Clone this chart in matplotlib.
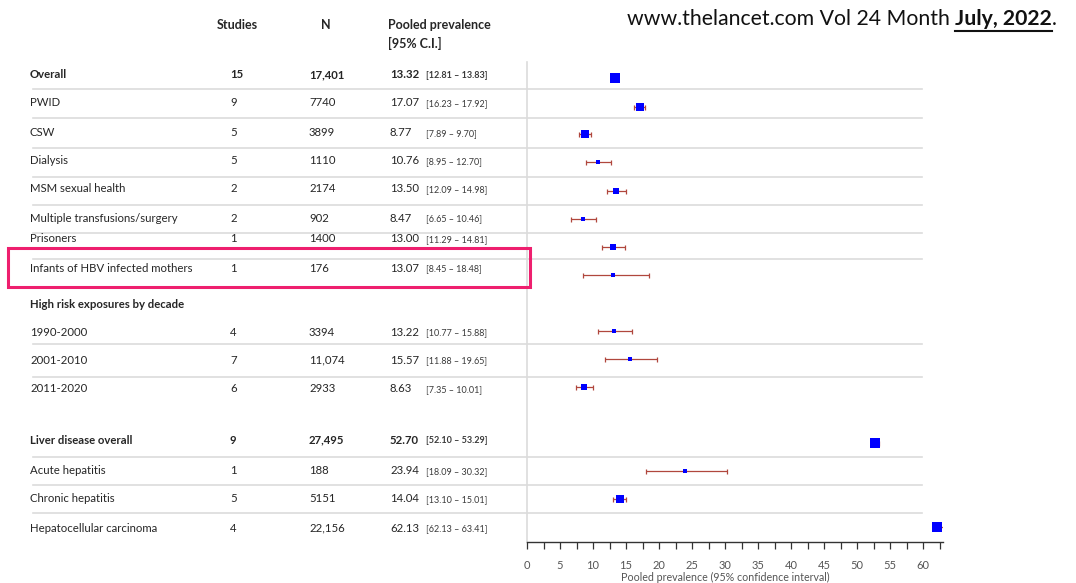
import matplotlib.pyplot as plt
import numpy as np
from matplotlib.patches import Rectangle

plt.rcParams['font.family'] = ['Lato', 'DejaVu Sans']

# prevalence of HBV by group
labels = ["Overall", "PWID", "CSW", "Dialysis", "MSM sexual health",
          "Multiple transfusions/surgery", "Prisoners", "Infants of HBV infected mothers",
          "1990-2000", "2001-2010", "2011-2020",
          "Liver disease overall", "Acute hepatitis", "Chronic hepatitis",
          "Hepatocellular carcinoma"]
studies = [15, 9, 5, 5, 2, 2, 1, 1, 4, 7, 6, 9, 1, 5, 4]
n_total = [17401, 7740, 3899, 1110, 2174, 902, 1400, 176, 3394, 11074, 2933,
           27495, 188, 5151, 22156]
prev = [13.32, 17.07, 8.77, 10.76, 13.50, 8.47, 13.00, 13.07, 13.22, 15.57, 8.63,
        52.70, 23.94, 14.04, 62.13]
ci_lo = [12.81, 16.23, 7.89, 8.95, 12.09, 6.65, 11.29, 8.45, 10.77, 11.88, 7.35,
         52.10, 18.09, 13.10, 62.13]
ci_hi = [13.83, 17.92, 9.70, 12.70, 14.98, 10.46, 14.81, 18.48, 15.88, 19.65, 10.01,
         53.29, 30.32, 15.01, 63.41]
bold_rows = ["Overall", "Liver disease overall"]
section_title = "High risk exposures by decade"
x_ticks = [0, 5, 10, 15, 20, 25, 30, 35, 40, 45, 50, 55, 60]

# layout (pixels from top)
W, H = 1076, 583
text_y = [75, 103, 133, 161, 189, 218, 239, 268, 332, 360, 389, 440, 471, 499, 528]
mark_y = [78, 107, 134, 162, 191, 219, 247, 275, 331, 359, 387, 443, 471, 499, 527]
sep_y = [89, 118, 148, 177, 205, 233, 259, 344, 377, 457, 485, 513]
section_y = 304
axis_y = 542
x0_px, px_per_unit = 527, 6.6

fig = plt.figure(figsize=(W / 100, H / 100), dpi=100)
tab = fig.add_axes([0, 0, 1, 1])
tab.set_xlim(0, W)
tab.set_ylim(H, 0)
tab.axis('off')

txt = '#262626'
grid = '#dcdcdc'
fs = 8.2

# separator lines and the divider before the plot
for y in sep_y:
    tab.plot([33, 922], [y, y], color=grid, lw=1.2, zorder=1)
tab.plot([x0_px, x0_px], [62, axis_y], color=grid, lw=1.2, zorder=1)

# column headers
tab.text(237, 25, "Studies", ha='center', va='center', fontsize=9, weight='bold', color=txt)
tab.text(326, 25, "N", ha='center', va='center', fontsize=9, weight='bold', color=txt)
tab.text(388, 25, "Pooled prevalence", ha='left', va='center', fontsize=9, weight='bold', color=txt)
tab.text(388, 43, "[95% C.I.]", ha='left', va='center', fontsize=9, weight='bold', color=txt)

for i, lab in enumerate(labels):
    y = text_y[i]
    w = 'bold' if lab in bold_rows else 'normal'
    n_str = f"{n_total[i]:,}" if n_total[i] >= 10000 else str(n_total[i])
    tab.text(30, y, lab, ha='left', va='center', fontsize=fs, weight=w, color=txt)
    tab.text(230, y, str(studies[i]), ha='left', va='center', fontsize=fs, weight=w, color=txt)
    tab.text(309, y, n_str, ha='left', va='center', fontsize=fs, weight=w, color=txt)
    tab.text(390, y, f"{prev[i]:.2f}", ha='left', va='center', fontsize=fs, weight=w, color=txt)
    tab.text(426, y + 0.5, f"[{ci_lo[i]:.2f} \u2013 {ci_hi[i]:.2f}]", ha='left', va='center',
             fontsize=6.5, weight=w, color='#3a3a3a')

tab.text(30, section_y, section_title, ha='left', va='center', fontsize=fs,
         weight='bold', color=txt)

# highlight box
tab.add_patch(Rectangle((8, 248), 522, 39, fill=False, ec='#ee1f6e', lw=2.2, zorder=5))

# journal reference, top right
r = fig.canvas.get_renderer()
t1 = tab.text(627, 19, "www.thelancet.com Vol 24 Month ", ha='left', va='center',
              fontsize=15.3, color='#111111')
bb = t1.get_window_extent(r)
t2 = fig.text(bb.x1 / W, 1 - 19 / H, "July, 2022", ha='left', va='center',
              fontsize=15.3, weight='bold', color='#111111')
bb2 = t2.get_window_extent(r)
fig.text(bb2.x1 / W, 1 - 19 / H, ".", ha='left', va='center', fontsize=15.3, color='#111111')
tab.plot([bb2.x0, bb2.x1], [31, 31], color='#111111', lw=1.5)

# forest plot
xmax = 63
fx = fig.add_axes([x0_px / W, 0, xmax * px_per_unit / W, 1])
fx.set_xlim(0, xmax)
fx.set_ylim(H, 0)
fx.patch.set_alpha(0)
for s in ['top', 'left', 'right']:
    fx.spines[s].set_visible(False)
fx.spines['bottom'].set_position(('data', axis_y))
fx.spines['bottom'].set_color('#333333')
fx.spines['bottom'].set_linewidth(1.0)
fx.set_yticks([])
fx.set_xticks(x_ticks)
fx.set_xticks(np.arange(2.5, 63, 5), minor=True)
fx.tick_params(axis='x', which='both', direction='out', length=5, width=0.9,
               color='#333333', labelsize=8, labelcolor='#555555', pad=8)

p = np.array(prev)
lo = np.array(ci_lo)
hi = np.array(ci_hi)
fx.errorbar(p, mark_y, xerr=[p - lo, hi - p], fmt='none', ecolor='#b0473d',
            elinewidth=0.9, capsize=1.8, capthick=0.9, zorder=3)
# marker size grows with precision of the estimate
size_px = 2.8 + 7.5 / (hi - lo)
for xi, yi, s in zip(p, mark_y, size_px):
    fx.plot(xi, yi, marker='s', color='#0000ff', markersize=s * 0.75,
            markeredgewidth=0, zorder=4)

fx.text(30, 577, "Pooled prevalence (95% confidence interval)", ha='center',
        va='center', fontsize=7.7, color='#555555')

fig.savefig('out.png', dpi=100)
